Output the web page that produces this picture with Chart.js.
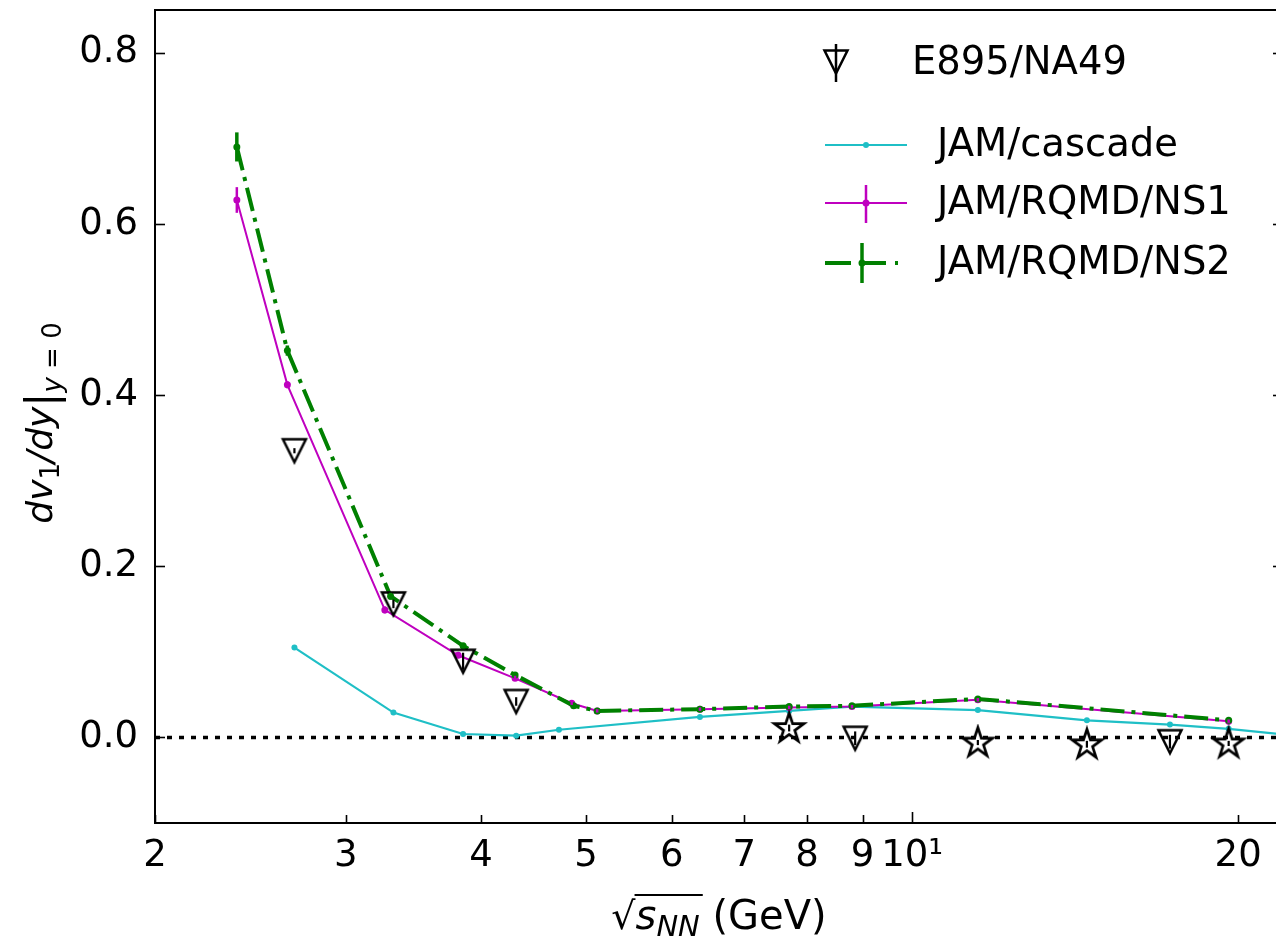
<!DOCTYPE html>
<html><head><meta charset="utf-8">
<script src="https://cdn.jsdelivr.net/npm/chart.js@4/dist/chart.umd.min.js"></script>
<style>
html,body{margin:0;padding:0;background:#fff;overflow:hidden;width:1276px;height:941px}
#wrap{width:1276px;height:941px;overflow:hidden;position:relative}
canvas{display:block}
</style></head><body>
<div id="wrap"><canvas id="c" width="1290" height="941" style="width:1290px;height:941px"></canvas></div>
<script>
// ---------- data ----------
const xTickValues = [2,3,4,5,6,7,8,9,10,20];
const xTickLabels = ['2','3','4','5','6','7','8','9','10\u00b9','20'];
const yTickValues = [0,0.2,0.4,0.6,0.8];
const yTickLabels = ['0.0','0.2','0.4','0.6','0.8'];
const legendLabels = ['E895/NA49','JAM/cascade','JAM/RQMD/NS1','JAM/RQMD/NS2'];

// E895 / NA49 (open down-triangles)
const triX   = [2.69, 3.32, 3.85, 4.31, 8.86, 17.3];
const triY   = [0.335, 0.156, 0.089, 0.042, -0.001, -0.005];
const triErr = [0.003, 0.005, 0.010, 0.005, 0.008, 0.008];
// open stars
const starX   = [7.7, 11.5, 14.5, 19.6];
const starY   = [0.011, -0.006, -0.008, -0.007];
const starErr = [0.004, 0.003, 0.004, 0.003];
// JAM/cascade
const casX = [2.69, 3.32, 3.85, 4.31, 4.72, 6.37, 7.7, 8.8, 11.5, 14.5, 17.3, 19.6, 27];
const casY = [0.105, 0.029, 0.004, 0.002, 0.009, 0.024, 0.031, 0.036, 0.032, 0.020, 0.015, 0.010, -0.008];
// JAM/RQMD/NS1
const ns1X   = [2.38, 2.65, 3.26, 3.81, 4.30, 4.85, 5.12, 6.37, 7.7, 8.8, 11.5, 19.6];
const ns1Y   = [0.628, 0.412, 0.149, 0.096, 0.069, 0.040, 0.031, 0.033, 0.035, 0.036, 0.044, 0.019];
const ns1Err = [0.015, 0.004, 0.004, 0.003, 0.003, 0.002, 0.002, 0.002, 0.002, 0.002, 0.002, 0.002];
// JAM/RQMD/NS2
const ns2X   = [2.38, 2.65, 3.30, 3.85, 4.30, 4.87, 5.12, 6.37, 7.7, 8.8, 11.5, 19.6];
const ns2Y   = [0.690, 0.452, 0.165, 0.107, 0.073, 0.037, 0.031, 0.033, 0.036, 0.037, 0.045, 0.020];
const ns2Err = [0.017, 0.006, 0.004, 0.003, 0.003, 0.002, 0.002, 0.002, 0.002, 0.002, 0.002, 0.002];
// zero reference line
const zeroX = [2, 22];
const zeroY = [0, 0];

// ---------- styling ----------
const FONT = '"DejaVu Sans", "Liberation Sans", sans-serif';
const CYAN = '#1fbfc6', MAG = '#bf00bf', GREEN = '#008000';

function pts(xs, ys){ return xs.map((x,i)=>({x:x, y:ys[i]})); }

function makeTriangle(){
  const c=document.createElement('canvas'); c.width=30; c.height=30;
  const g=c.getContext('2d'); g.strokeStyle='#000'; g.lineWidth=2.5; g.lineJoin='miter';
  g.beginPath(); g.moveTo(3.5,3.5); g.lineTo(26.5,3.5); g.lineTo(15,26.5); g.closePath(); g.stroke();
  return c;
}
function makeStar(){
  const c=document.createElement('canvas'); c.width=38; c.height=38;
  const g=c.getContext('2d'); g.strokeStyle='#000'; g.lineWidth=2.7; g.lineJoin='miter';
  const cx=19, cy=19.5, R=15.5, r=R*0.381966;
  g.beginPath();
  for(let i=0;i<10;i++){
    const a=-Math.PI/2+i*Math.PI/5, rr=(i%2)?r:R;
    const px=cx+rr*Math.cos(a), py=cy+rr*Math.sin(a);
    if(i) g.lineTo(px,py); else g.moveTo(px,py);
  }
  g.closePath(); g.stroke();
  return c;
}
const triImg = makeTriangle();
const starImg = makeStar();

function drawRich(ctx, parts, x, y){
  let w=0;
  parts.forEach(p=>{ ctx.font=p.font; p.w=ctx.measureText(p.t).width; w+=p.w; });
  let cx=x-w/2;
  ctx.textBaseline='alphabetic'; ctx.textAlign='left';
  parts.forEach(p=>{ ctx.font=p.font; ctx.fillText(p.t, cx, y+(p.dy||0)); p.x0=cx; cx+=p.w; });
  return parts;
}

// ---------- plugins ----------
const errBars = {
  id:'errBars',
  afterDatasetsDraw(chart){
    const ctx=chart.ctx, ys=chart.scales.y;
    ctx.save();
    ctx.beginPath(); ctx.rect(chart.chartArea.left, chart.chartArea.top, chart.chartArea.right-chart.chartArea.left, chart.chartArea.bottom-chart.chartArea.top); ctx.clip();
    chart.data.datasets.forEach((ds,di)=>{
      if(!ds.errs) return;
      const meta=chart.getDatasetMeta(di);
      ctx.strokeStyle=ds.errColor; ctx.lineWidth=ds.errWidth||2;
      meta.data.forEach((el,i)=>{
        const e=ds.errs[i]; if(!e) return;
        const v=ds.data[i].y;
        ctx.beginPath(); ctx.moveTo(el.x, ys.getPixelForValue(v-e)); ctx.lineTo(el.x, ys.getPixelForValue(v+e)); ctx.stroke();
      });
    });
    ctx.restore();
  }
};

const frame = {
  id:'frame',
  afterDraw(chart){
    const ctx=chart.ctx, a=chart.chartArea, xs=chart.scales.x, ys=chart.scales.y;
    ctx.save();
    ctx.strokeStyle='#000'; ctx.lineWidth=2;
    ctx.strokeRect(a.left, a.top, a.right-a.left, a.bottom-a.top);
    ctx.lineWidth=1.6;
    xTickValues.forEach(v=>{
      const px=Math.round(xs.getPixelForValue(v))+0.5, len=(v===10)?11:8;
      ctx.beginPath(); ctx.moveTo(px,a.bottom); ctx.lineTo(px,a.bottom-len); ctx.stroke();
    });
    yTickValues.forEach(v=>{
      const py=Math.round(ys.getPixelForValue(v))+0.5;
      ctx.beginPath(); ctx.moveTo(a.left,py); ctx.lineTo(a.left+10,py); ctx.stroke();
      ctx.beginPath(); ctx.moveTo(a.right,py); ctx.lineTo(a.right-10,py); ctx.stroke();
    });
    ctx.restore();
  }
};

const legendAndTitles = {
  id:'legendAndTitles',
  afterDraw(chart){
    const ctx=chart.ctx;
    ctx.save();
    // legend
    ctx.fillStyle='#000'; ctx.font='38.5px '+FONT; ctx.textBaseline='middle'; ctx.textAlign='left';
    // entry 1: triangle with error bar
    ctx.drawImage(triImg, 836-15, 62-15);
    ctx.strokeStyle='#000'; ctx.lineWidth=2.5;
    ctx.beginPath(); ctx.moveTo(836,44); ctx.lineTo(836,82); ctx.stroke();
    ctx.fillText(legendLabels[0], 912, 64);
    // entry 2: cyan line
    ctx.strokeStyle=CYAN; ctx.lineWidth=2;
    ctx.beginPath(); ctx.moveTo(825,145); ctx.lineTo(907,145); ctx.stroke();
    ctx.fillStyle=CYAN; ctx.beginPath(); ctx.arc(866,145,3,0,Math.PI*2); ctx.fill();
    ctx.fillStyle='#000'; ctx.fillText(legendLabels[1], 937, 146);
    // entry 3: magenta line with error bar
    ctx.strokeStyle=MAG; ctx.lineWidth=2;
    ctx.beginPath(); ctx.moveTo(825,203); ctx.lineTo(907,203); ctx.stroke();
    ctx.lineWidth=2.5; ctx.beginPath(); ctx.moveTo(866,185); ctx.lineTo(866,223); ctx.stroke();
    ctx.fillStyle=MAG; ctx.beginPath(); ctx.arc(866,203,3.5,0,Math.PI*2); ctx.fill();
    ctx.fillStyle='#000'; ctx.fillText(legendLabels[2], 937, 204);
    // entry 4: green dash-dot with error bar
    ctx.strokeStyle=GREEN; ctx.lineWidth=4; ctx.setLineDash([26,9]);
    ctx.beginPath(); ctx.moveTo(825,263); ctx.lineTo(898,263); ctx.stroke();
    ctx.setLineDash([]);
    ctx.lineWidth=3.5; ctx.beginPath(); ctx.moveTo(862,243); ctx.lineTo(862,283); ctx.stroke();
    ctx.fillStyle=GREEN; ctx.beginPath(); ctx.arc(862,263,3.5,0,Math.PI*2); ctx.fill();
    ctx.fillStyle='#000'; ctx.fillText(legendLabels[3], 937, 264);

    // x title: sqrt(s_NN) (GeV)
    ctx.fillStyle='#000'; ctx.strokeStyle='#000';
    const xa = chart.chartArea;
    const xparts = drawRich(ctx, [
      {t:'\u221a', font:'38px '+FONT},
      {t:'s', font:'italic 40px '+FONT},
      {t:'NN', font:'italic 29px '+FONT, dy:7},
      {t:' (GeV)', font:'40px '+FONT}
    ], (xa.left+xa.right)/2, 929);
    ctx.lineWidth=2;
    ctx.beginPath(); ctx.moveTo(xparts[1].x0-1, 895); ctx.lineTo(xparts[2].x0+xparts[2].w+3, 895); ctx.stroke();

    // y title: dv_1/dy|_{y=0}
    ctx.save();
    ctx.translate(52, 423); ctx.rotate(-Math.PI/2);
    drawRich(ctx, [
      {t:'dv', font:'italic 36px '+FONT},
      {t:'1', font:'26px '+FONT, dy:7},
      {t:'/dy', font:'italic 36px '+FONT},
      {t:'|', font:'42px '+FONT, dy:4},
      {t:'y', font:'italic 26px '+FONT, dy:9},
      {t:' = 0', font:'26px '+FONT, dy:9}
    ], 0, 0);
    ctx.restore();
    ctx.restore();
  }
};

// ---------- chart ----------
const tickFont = {family:FONT, size:37};
new Chart(document.getElementById('c'), {
  type:'line',
  data:{ datasets:[
    { label:'E895/NA49', data:pts(triX,triY), showLine:false, pointStyle:triImg, pointRadius:13,
      errs:triErr, errColor:'#000', errWidth:2.2 },
    { label:'stars', data:pts(starX,starY), showLine:false, pointStyle:starImg, pointRadius:15,
      errs:starErr, errColor:'#000', errWidth:2.2 },
    { label:legendLabels[3], data:pts(ns2X,ns2Y), borderColor:GREEN, backgroundColor:GREEN, borderWidth:4,
      borderDash:[24,7,4,7], pointRadius:3.5, pointBorderWidth:0, errs:ns2Err, errColor:GREEN, errWidth:3.5 },
    { label:legendLabels[2], data:pts(ns1X,ns1Y), borderColor:MAG, backgroundColor:MAG, borderWidth:2,
      pointRadius:3.5, pointBorderWidth:0, errs:ns1Err, errColor:MAG, errWidth:2.5 },
    { label:legendLabels[1], data:pts(casX,casY), borderColor:CYAN, backgroundColor:CYAN, borderWidth:2.2,
      pointRadius:3, pointBorderWidth:0 },
    { label:'zero', data:pts(zeroX,zeroY), borderColor:'#000', borderWidth:3.5, borderDash:[5,7],
      pointRadius:0 }
  ]},
  options:{
    responsive:false, devicePixelRatio:1, animation:false,
    layout:{autoPadding:false, padding:{top:10, right:7, left:0, bottom:0}},
    plugins:{legend:{display:false}, tooltip:{enabled:false}, title:{display:false}},
    elements:{line:{tension:0}},
    scales:{
      x:{ type:'logarithmic', position:'bottom', min:2, max:22,
        afterBuildTicks:(s)=>{ s.ticks = xTickValues.map(v=>({value:v})); },
        afterFit:(s)=>{ s.height = 118; s.paddingLeft=0; s.paddingRight=0; },
        ticks:{ autoSkip:false, maxRotation:0, minRotation:0, color:'#000', font:tickFont, padding:11,
          callback:(v,i)=>xTickLabels[i] },
        grid:{display:false, drawTicks:false}, border:{display:false}
      },
      y:{ type:'linear', min:-0.1, max:0.85,
        afterBuildTicks:(s)=>{ s.ticks = yTickValues.map(v=>({value:v})); },
        afterFit:(s)=>{ s.width = 155; s.paddingTop=0; s.paddingBottom=0; },
        ticks:{ color:'#000', font:tickFont, padding:17, callback:(v,i)=>yTickLabels[i] },
        grid:{display:false, drawTicks:false}, border:{display:false}
      }
    }
  },
  plugins:[errBars, frame, legendAndTitles]
});
</script>
</body></html>
